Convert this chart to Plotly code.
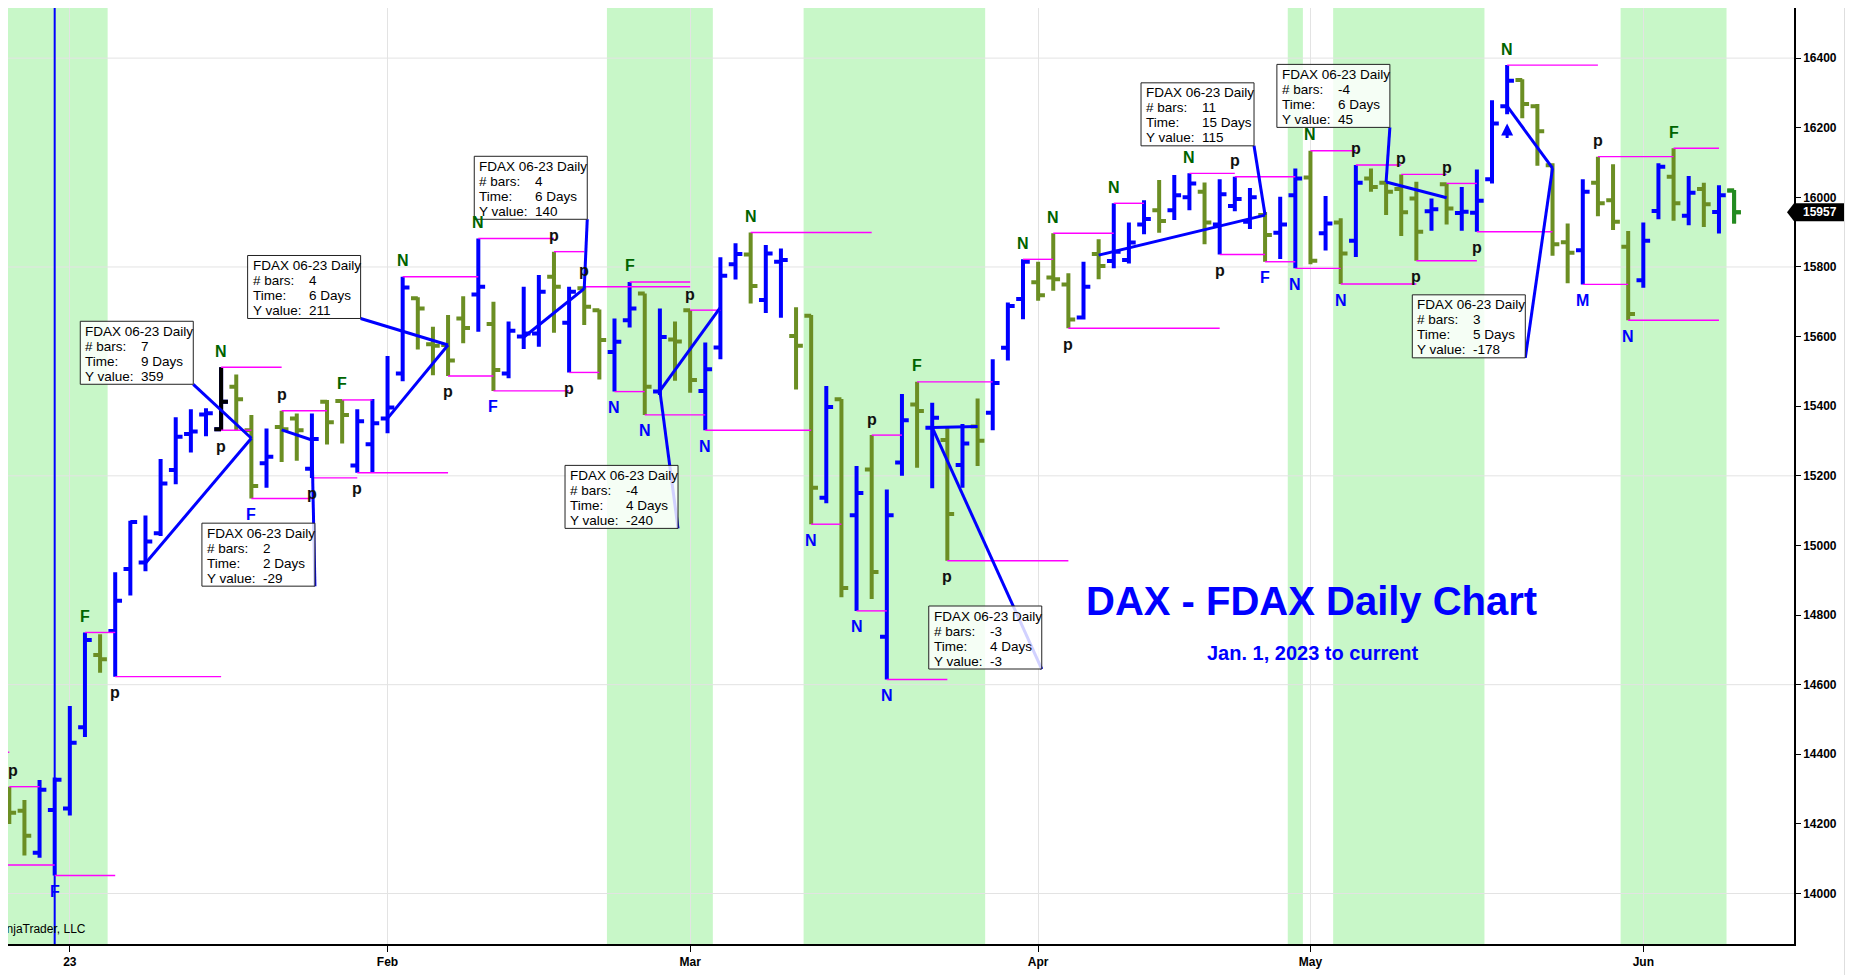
import pandas as pd
import plotly.graph_objects as go

# trading days shown on the chart (Eurex closed on these)
holidays = ["2023-01-02", "2023-04-07", "2023-04-10", "2023-05-01"]
days = pd.bdate_range("2022-12-27", "2023-06-09")
days = days[~days.isin(pd.to_datetime(holidays))]
dates = [d.strftime("%Y-%m-%d") for d in days]

opens = [14289, 14238, 14117, 14240, 14244, 14478, 14685, 14754, 14932, 14951,
         15035, 15217, 15320, 15376, 15334, 15456, 15331, 15236, 15340, 15365,
         15220, 15413, 15415, 15230, 15291, 15365, 15494, 15710, 15578, 15576,
         15652, 15721, 15636, 15494, 15600, 15609, 15772, 15640, 15739, 15676,
         15556, 15647, 15724, 15442, 15592, 15676, 15444, 15569, 15808, 15836,
         15705, 15815, 15602, 15660, 15137, 15420, 15087, 15218, 14738, 15238,
         15405, 15338, 15303, 15231, 15342, 15381, 15568, 15708, 15756, 15770,
         15750, 15655, 15837, 15817, 15820, 15922, 15963, 15963, 16000, 16016,
         15922, 15975, 15930, 15949, 15898, 16006, 16057, 15897, 15928, 15875,
         16054, 16042, 16024, 15997, 15960, 16038, 15955, 15956, 16052, 16262,
         16337, 16262, 16092, 15871, 15848, 16042, 15992, 15858, 15762, 15961,
         16059, 15947, 16024, 15958, 16020]
highs = [14307, 14269, 14326, 14333, 14539, 14750, 14745, 14923, 15071, 15086,
         15248, 15368, 15391, 15394, 15512, 15491, 15375, 15336, 15387, 15379,
         15379, 15418, 15418, 15391, 15421, 15544, 15772, 15713, 15628, 15662,
         15716, 15882, 15700, 15643, 15743, 15777, 15844, 15743, 15743, 15678,
         15652, 15757, 15724, 15681, 15643, 15676, 15583, 15828, 15868, 15899,
         15863, 15853, 15684, 15662, 15458, 15421, 15228, 15317, 15161, 15435,
         15470, 15410, 15341, 15349, 15422, 15535, 15698, 15822, 15815, 15897,
         15782, 15815, 15880, 15983, 15928, 15992, 16050, 16064, 16069, 16043,
         16052, 16059, 16027, 15958, 16002, 16083, 16134, 16004, 15940, 16093,
         16083, 16045, 16066, 16045, 15997, 16040, 16030, 16080, 16279, 16380,
         16339, 16268, 16098, 15925, 16052, 16117, 16095, 15903, 15928, 16098,
         16141, 16061, 16042, 16035, 16021]
lows = [14200, 14109, 14103, 14052, 14224, 14450, 14634, 14623, 14856, 14926,
        15027, 15176, 15267, 15314, 15331, 15331, 15135, 15166, 15240, 15243,
        15194, 15290, 15293, 15209, 15209, 15322, 15472, 15563, 15489, 15487,
        15581, 15614, 15444, 15480, 15564, 15571, 15611, 15497, 15633, 15477,
        15442, 15626, 15375, 15432, 15473, 15439, 15331, 15535, 15764, 15695,
        15668, 15654, 15448, 15061, 15121, 14851, 14812, 14846, 14615, 15200,
        15223, 15164, 14956, 15166, 15228, 15331, 15531, 15650, 15703, 15732,
        15624, 15649, 15765, 15796, 15810, 15894, 15898, 15935, 15963, 15865,
        15836, 15960, 15909, 15815, 15823, 15796, 15808, 15847, 15751, 15829,
        16016, 15949, 15889, 15818, 15904, 15922, 15904, 15901, 16040, 16239,
        16227, 16091, 15832, 15753, 15750, 15946, 15906, 15647, 15740, 15937,
        15933, 15920, 15915, 15896, 15925]
closes = [14232, 14166, 14298, 14327, 14433, 14728, 14673, 14841, 15067, 15011,
          15178, 15312, 15327, 15380, 15413, 15420, 15171, 15255, 15334, 15331,
          15306, 15354, 15375, 15357, 15351, 15396, 15741, 15681, 15574, 15531,
          15625, 15743, 15504, 15617, 15609, 15729, 15743, 15729, 15686, 15590,
          15585, 15681, 15456, 15599, 15586, 15475, 15506, 15775, 15837, 15745,
          15839, 15820, 15574, 15166, 15398, 14878, 15151, 14924, 15087, 15360,
          15386, 15367, 15090, 15293, 15301, 15467, 15688, 15815, 15719, 15765,
          15649, 15743, 15803, 15844, 15870, 15938, 15932, 16006, 16040, 15928,
          16009, 15995, 16000, 15892, 15922, 16054, 15818, 15925, 15839, 16042,
          16030, 16016, 15957, 15901, 15966, 15968, 15959, 15990, 16212, 16335,
          16268, 16190, 15865, 15841, 16016, 15983, 15930, 15665, 15875, 16088,
          15983, 16013, 15980, 16006, 15957]

black_bar = 14
last_bar = len(dates) - 1
session_bar = 3

# swing markers
above_bars = [0, 5, 14, 18, 22, 26, 31, 36, 38, 41, 45, 49, 57, 60, 67, 69, 73,
              78, 81, 86, 89, 92, 95, 99, 105, 110]
above_text = ["p", "F", "N", "p", "F", "N", "N", "p", "p", "F", "p", "N", "p", "F",
              "N", "N", "N", "N", "p", "N", "p", "p", "p", "N", "p", "F"]
below_bars = [3, 7, 14, 16, 20, 23, 29, 32, 37, 40, 42, 46, 53, 56, 58, 62, 70,
              80, 83, 85, 88, 93, 97, 104, 107]
below_text = ["F", "p", "p", "F", "p", "p", "p", "F", "p", "N", "N", "N", "N", "N",
              "N", "p", "p", "p", "F", "N", "N", "p", "p", "M", "N"]

# magenta swing levels
level_start = [-1, -1, 0, 3, 5, 7, 14, 14, 16, 18, 20, 22, 23, 26, 29, 31, 32, 36,
               37, 38, 40, 41, 42, 45, 46, 49, 53, 56, 57, 58, 60, 62, 67, 69, 70,
               73, 78, 80, 81, 83, 85, 86, 88, 89, 92, 93, 95, 97, 99, 104, 105,
               107, 110]
level_end = [0, 3, 2, 7, 7, 14, 18, 16, 20, 21, 23, 24, 29, 31, 32, 36, 37, 38,
             39, 45, 42, 45, 46, 47, 53, 57, 55, 58, 59, 62, 65, 70, 69, 73, 80,
             75, 81, 83, 85, 85, 88, 89, 93, 92, 95, 97, 97, 102, 105, 107, 110,
             113, 113]
level_price = [14406, 14082, 14307, 14052, 14750, 14623, 15512, 15331, 15135, 15387,
               15194, 15418, 15209, 15772, 15487, 15882, 15444, 15844, 15497, 15743,
               15442, 15757, 15375, 15676, 15331, 15899, 15061, 14812, 15317, 14615,
               15470, 14956, 15822, 15897, 15624, 15983, 16069, 15836, 16059, 15815,
               15796, 16134, 15751, 16093, 16066, 15818, 16040, 15901, 16380, 15750,
               16117, 15647, 16141]

# ruler drawings: start, end, text anchor (bottom-right of the box)
ruler_start = [9, 25, 18, 34, 47, 64, 72, 95, 99]
ruler_start_price = [14949, 15365, 15332, 15598, 15684, 15342, 15834, 15999, 16262]
ruler_end = [16, 29, 20, 38, 43, 61, 83, 91, 102]
ruler_end_price = [15308, 15576, 15303, 15738, 15444, 15339, 15949, 16044, 16084]
ruler_box_x = [12.16, 23.22, 20.2, 38.2, 44.2, 68.24, 82.27, 91.25, 100.2]
ruler_box_price = [15463, 15652, 14883, 15937, 15049, 14645, 16148, 16201, 15539]
ruler_bars = ["7", "4", "2", "4", "-4", "-3", "11", "-4", "3"]
ruler_days = ["9", "6", "2", "6", "4", "4", "15", "6", "5"]
ruler_yvalue = ["359", "211", "-29", "140", "-240", "-3", "115", "45", "-178"]

# shaded time windows (first bar, last bar)
band_first = [-5, 40, 53, 85, 88, 107]
band_last = [6, 46, 64, 85, 97, 113]

arrow_bars = [99]
arrow_prices = [16212]

BLUE = "#0000ff"
OLIVE = "#6b8e23"
GREEN_TXT = "#006400"
FONT = "Arial, Liberation Sans, sans-serif"

# month ticks
tick_vals, tick_text = [], []
for i in range(1, len(days)):
    if days[i].month != days[i - 1].month:
        tick_vals.append(dates[i])
        tick_text.append(days[i].strftime("%y") if days[i].month == 1 else days[i].strftime("%b"))

fig = go.Figure()
fig.add_trace(go.Ohlc(x=dates, open=opens, high=highs, low=lows, close=closes,
                      increasing=dict(line=dict(color=BLUE, width=4)),
                      decreasing=dict(line=dict(color=OLIVE, width=4)),
                      line=dict(width=4), tickwidth=0.45, showlegend=False))
for i, col in [(black_bar, "#000000"), (last_bar, "#228b22")]:
    fig.add_trace(go.Ohlc(x=[dates[i]], open=[opens[i]], high=[highs[i]], low=[lows[i]],
                          close=[closes[i]],
                          increasing=dict(line=dict(color=col, width=4)),
                          decreasing=dict(line=dict(color=col, width=4)),
                          line=dict(width=4), tickwidth=0.45, showlegend=False))

shapes = []
for a, b in zip(band_first, band_last):
    shapes.append(dict(type="rect", xref="x", yref="paper", x0=a - 0.5, x1=b + 0.5, y0=0, y1=1,
                       fillcolor="#c8f7c8", line=dict(width=0), layer="below"))
for lvl in range(14000, 16401, 600):
    shapes.append(dict(type="line", xref="paper", yref="y", x0=0, x1=1, y0=lvl, y1=lvl,
                       line=dict(color="#e3e3e3", width=1), layer="below"))
shapes.append(dict(type="line", xref="x", yref="paper", x0=session_bar, x1=session_bar,
                   y0=0, y1=1, line=dict(color=BLUE, width=2)))
for a, b, p in zip(level_start, level_end, level_price):
    shapes.append(dict(type="line", xref="x", yref="y", x0=a, x1=b, y0=p, y1=p,
                       line=dict(color="#ff00ff", width=1.4)))
for k in range(len(ruler_start)):
    shapes.append(dict(type="line", xref="x", yref="y", x0=ruler_start[k], y0=ruler_start_price[k],
                       x1=ruler_end[k], y1=ruler_end_price[k], line=dict(color=BLUE, width=3)))
    shapes.append(dict(type="line", xref="x", yref="y", x0=ruler_end[k], y0=ruler_end_price[k],
                       x1=ruler_box_x[k], y1=ruler_box_price[k], line=dict(color=BLUE, width=3)))
# ruler text boxes (pixel sized, bottom-right corner on the anchor)
for k in range(len(ruler_start)):
    shapes.append(dict(type="rect", xref="x", yref="y", xsizemode="pixel", ysizemode="pixel",
                       xanchor=ruler_box_x[k], yanchor=ruler_box_price[k],
                       x0=-113, x1=0, y0=0, y1=63,
                       fillcolor="rgba(255,255,255,0.82)", line=dict(color="#222222", width=1)))
# last price tag
shapes.append(dict(type="path", xref="paper", yref="y", xsizemode="pixel", ysizemode="pixel",
                   xanchor=1, yanchor=closes[-1], path="M-7,0 L0,9 L50,9 L50,-9 L0,-9 Z",
                   fillcolor="black", line=dict(width=0)))
# window edge
shapes.append(dict(type="rect", xref="paper", yref="paper", x0=1.0286, x1=1.05, y0=-0.05, y1=1.01,
                   fillcolor="#ececec", line=dict(color="#b0b0b0", width=1)))

ann = []
for i, t in zip(above_bars, above_text):
    ann.append(dict(x=i, y=highs[i], xref="x", yref="y", text=t, showarrow=False, yshift=16,
                    xshift=4 if i == 0 else 0,
                    font=dict(family=FONT, size=16, color="#111111" if t == "p" else GREEN_TXT,
                              weight="bold")))
for i, t in zip(below_bars, below_text):
    ann.append(dict(x=i, y=lows[i], xref="x", yref="y", text=t, showarrow=False, yshift=-16,
                    font=dict(family=FONT, size=16, color="#111111" if t == "p" else BLUE,
                              weight="bold")))
for k in range(len(ruler_start)):
    rows = [("FDAX 06-23 Daily", ""), ("# bars:", ruler_bars[k]),
            ("Time:", ruler_days[k] + " Days"), ("Y value:", ruler_yvalue[k])]
    for j, (lab, val) in enumerate(rows):
        ys = 8 + 15 * (3 - j)
        ann.append(dict(x=ruler_box_x[k], y=ruler_box_price[k], xref="x", yref="y", text=lab,
                        showarrow=False, xanchor="left", yanchor="middle", xshift=-110, yshift=ys,
                        font=dict(family=FONT, size=13.5, color="black")))
        if val:
            ann.append(dict(x=ruler_box_x[k], y=ruler_box_price[k], xref="x", yref="y", text=val,
                            showarrow=False, xanchor="left", yanchor="middle", xshift=-54, yshift=ys,
                            font=dict(family=FONT, size=13.5, color="black")))
for i, p in zip(arrow_bars, arrow_prices):
    ann.append(dict(x=i, y=p, xref="x", yref="y", text="", showarrow=True, ax=0, ay=16,
                    arrowhead=2, arrowsize=0.8, arrowwidth=3, arrowcolor=BLUE, standoff=0))
ann.append(dict(x=0.72996, y=0.3667, xref="paper", yref="paper", text="DAX - FDAX Daily Chart",
                showarrow=False, xanchor="center", yanchor="middle",
                font=dict(family=FONT, size=40, color=BLUE, weight="bold")))
ann.append(dict(x=0.7307, y=0.3109, xref="paper", yref="paper", text="Jan. 1, 2023 to current",
                showarrow=False, xanchor="center", yanchor="middle",
                font=dict(family=FONT, size=20, color=BLUE, weight="bold")))
ann.append(dict(x=0.0448, y=0.016, xref="paper", yref="paper", text="© 2023 NinjaTrader, LLC",
                showarrow=False, xanchor="right", yanchor="middle",
                font=dict(family=FONT, size=12, color="black")))
ann.append(dict(x=1, y=closes[-1], xref="paper", yref="y", text=str(closes[-1]), showarrow=False,
                xanchor="center", xshift=26,
                font=dict(family=FONT, size=12, color="white", weight="bold")))

# the page keeps an 8px body margin, so the figure is 8px smaller and the ranges start 8px in
fig.update_layout(
    width=1845, height=967, margin=dict(l=0, r=59, t=0, b=31, pad=0),
    paper_bgcolor="white", plot_bgcolor="white", showlegend=False,
    font=dict(family=FONT, color="black"),
    shapes=shapes, annotations=ann,
    xaxis=dict(type="category", range=[-0.086, 117.96], rangeslider=dict(visible=False),
               tickmode="array", tickvals=tick_vals, ticktext=tick_text,
               ticks="outside", ticklen=6, tickcolor="black", showgrid=True, gridcolor="#e3e3e3",
               showline=True, linecolor="black", linewidth=2,
               tickfont=dict(family=FONT, size=12, color="black", weight="bold")),
    yaxis=dict(side="right", range=[13855, 16544], dtick=200, tick0=0, tickformat="d",
               ticks="outside", ticklen=5, tickcolor="black", showgrid=False, zeroline=False,
               showline=True, linecolor="black", linewidth=1.5,
               tickfont=dict(family=FONT, size=12, color="black", weight="bold")),
)

fig.write_html("out.html")
